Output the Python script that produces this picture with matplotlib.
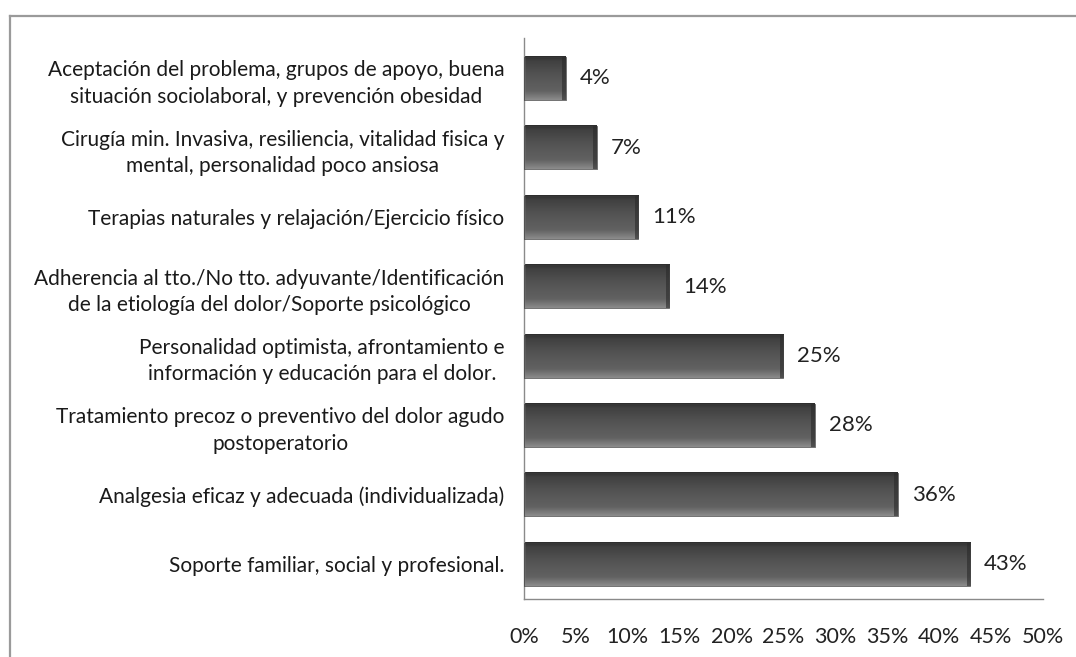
import numpy as np
import matplotlib.pyplot as plt
from matplotlib.lines import Line2D
from matplotlib.colors import LinearSegmentedColormap

plt.rcParams['font.family'] = ['Lato', 'DejaVu Sans']

# bottom to top
labels = [
    'Soporte familiar, social y profesional.',
    'Analgesia eficaz y adecuada (individualizada)',
    'Tratamiento precoz o preventivo del dolor agudo\npostoperatorio',
    'Personalidad optimista, afrontamiento e\ninformación y educación para el dolor.',
    'Adherencia al tto./No tto. adyuvante/Identificación\nde la etiología del dolor/Soporte psicológico',
    'Terapias naturales y relajación/Ejercicio físico',
    'Cirugía min. Invasiva, resiliencia, vitalidad fisica y\nmental, personalidad poco ansiosa',
    'Aceptación del problema, grupos de apoyo, buena\nsituación sociolaboral, y prevención obesidad',
]
values = [43, 36, 28, 25, 14, 11, 7, 4]
xticks = [0, 5, 10, 15, 20, 25, 30, 35, 40, 45, 50]

fig = plt.figure(figsize=(10.76, 6.57), dpi=100)
ax = fig.add_axes([0.487, 0.0883, 0.9693 - 0.487, 0.942 - 0.0883])

# chart frame (cut off at right and bottom)
fig.add_artist(Line2D([0.0093, 1.0], [0.9756, 0.9756], transform=fig.transFigure,
                      color='#9a9a9a', lw=1.6))
fig.add_artist(Line2D([0.0093, 0.0093], [0.0, 0.9756], transform=fig.transFigure,
                      color='#9a9a9a', lw=1.6))

cmap = LinearSegmentedColormap.from_list('bar', [
    (0.0, '#8c8c8c'), (0.08, '#7a7a7a'), (0.2, '#626262'),
    (0.6, '#525252'), (0.9, '#404040'), (1.0, '#2e2e2e')])
grad = np.linspace(0, 1, 64).reshape(-1, 1)

h = 0.62
y = np.arange(len(values))
for yi, v in zip(y, values):
    ax.imshow(grad, cmap=cmap, aspect='auto', extent=(0, v, yi + h / 2, yi - h / 2),
              origin='upper', zorder=2, interpolation='bilinear')
    ax.barh(yi, v, height=h, color='none', edgecolor='#3a3a3a', lw=0.5, zorder=3)
    ax.barh(yi, 0.35, left=v - 0.35, height=h, color='#2a2a2a', alpha=0.6, lw=0, zorder=3)
    ax.annotate(f'{v}%', xy=(v, yi), xytext=(10, 0), textcoords='offset points',
                va='center', ha='left', fontsize=16, color='#222222')

ax.set_xlim(0, 50)
ax.set_ylim(-0.5, 7.58)
ax.set_yticks(y)
ax.set_yticklabels(labels, fontsize=15, color='#1a1a1a', multialignment='center',
                   linespacing=1.4)
ax.set_xticks(xticks)
ax.set_xticklabels([f'{t}%' for t in xticks], fontsize=15.5, color='#222222')
ax.tick_params(axis='y', length=0, pad=14)
ax.tick_params(axis='x', length=0, pad=20)

for s in ['top', 'right']:
    ax.spines[s].set_visible(False)
ax.spines['left'].set_color('#8a8a8a')
ax.spines['bottom'].set_color('#8a8a8a')
ax.spines['left'].set_linewidth(1.0)
ax.spines['bottom'].set_linewidth(1.0)

fig.savefig('out.png', dpi=100)
